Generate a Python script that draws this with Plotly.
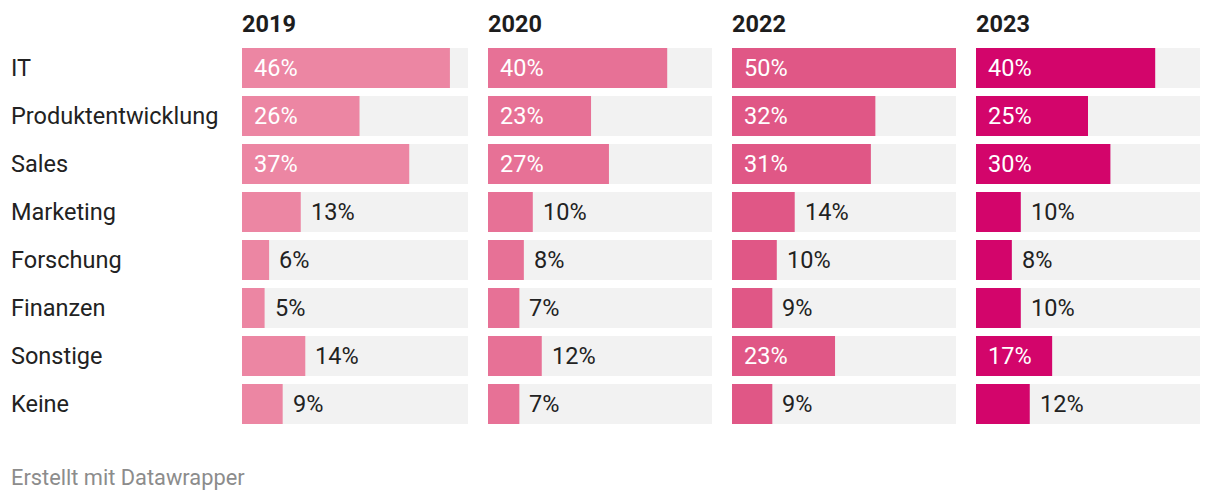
import plotly.graph_objects as go

categories = ["IT", "Produktentwicklung", "Sales", "Marketing", "Forschung",
              "Finanzen", "Sonstige", "Keine"]
years = ["2019", "2020", "2022", "2023"]
values_2019 = [46, 26, 37, 13, 6, 5, 14, 9]
values_2020 = [40, 23, 27, 10, 8, 7, 12, 7]
values_2022 = [50, 32, 31, 14, 10, 9, 23, 9]
values_2023 = [40, 25, 30, 10, 8, 10, 17, 12]
series = [values_2019, values_2020, values_2022, values_2023]
colors = ["#ec86a3", "#e77196", "#e05786", "#d3056b"]
max_value = 50
inside_threshold = 15

W, H = 1220, 500
ml, mr, mt, mb = 0, 20, 44, 72
pw = W - ml - mr
ph = H - mt - mb
panel_px = [(242, 468), (488, 712), (732, 956), (976, 1200)]

fig = go.Figure()
annotations = []
font = "Roboto, 'Open Sans', sans-serif"
label_size = 23.5
label_weight = 400

for i, (yr, vals, col) in enumerate(zip(years, series, colors)):
    xa = "x" if i == 0 else f"x{i+1}"
    xkey = "xaxis" if i == 0 else f"xaxis{i+1}"
    a, b = panel_px[i]
    dom = [(a - ml) / pw, (b - ml) / pw]
    fig.add_trace(go.Bar(
        x=[max_value] * len(categories), y=categories, orientation="h",
        marker=dict(color="#f2f2f2", line=dict(width=0)),
        xaxis=xa, yaxis="y", hoverinfo="skip", showlegend=False))
    fig.add_trace(go.Bar(
        x=vals, y=categories, orientation="h",
        marker=dict(color=col, line=dict(width=0)),
        xaxis=xa, yaxis="y", showlegend=False))
    fig.layout[xkey] = dict(domain=dom, range=[0, max_value], visible=False,
                            fixedrange=True, anchor="y")
    for c, v in zip(categories, vals):
        if v >= inside_threshold:
            annotations.append(dict(x=0, y=c, xref=xa, yref="y", text=f"{v}%",
                                    showarrow=False, xanchor="left", xshift=10,
                                    font=dict(family=font, size=label_size, weight=label_weight,
                                              color="#ffffff")))
        else:
            annotations.append(dict(x=v, y=c, xref=xa, yref="y", text=f"{v}%",
                                    showarrow=False, xanchor="left", xshift=8,
                                    font=dict(family=font, size=label_size, weight=label_weight,
                                              color="#222222")))
    annotations.append(dict(x=dom[0], y=1 + 20 / ph, xref="paper", yref="paper",
                            text=f"<b>{yr}</b>", showarrow=False, xanchor="left",
                            yanchor="middle", xshift=-2,
                            font=dict(family=font, size=23.5, color="#1d1d1d")))

for c in categories:
    annotations.append(dict(x=12 / pw, y=c, xref="paper", yref="y", text=c,
                            showarrow=False, xanchor="left", xshift=-3,
                            font=dict(family=font, size=label_size, weight=label_weight,
                                      color="#222222")))

annotations.append(dict(x=12 / pw, y=-(477 - (mt + ph)) / ph, xref="paper", yref="paper",
                        text="Erstellt mit Datawrapper", showarrow=False,
                        xanchor="left", yanchor="middle", xshift=-3,
                        font=dict(family=font, size=21.8, weight=label_weight, color="#8c8c8c")))

fig.update_layout(
    width=W, height=H,
    margin=dict(l=ml, r=mr, t=mt, b=mb),
    barmode="overlay", bargap=8 / 48,
    plot_bgcolor="white", paper_bgcolor="white",
    yaxis=dict(categoryorder="array", categoryarray=categories, autorange="reversed",
               visible=False, fixedrange=True, domain=[0, 1]),
    annotations=annotations,
)

fig.write_html("out.html", config={"displayModeBar": False})
